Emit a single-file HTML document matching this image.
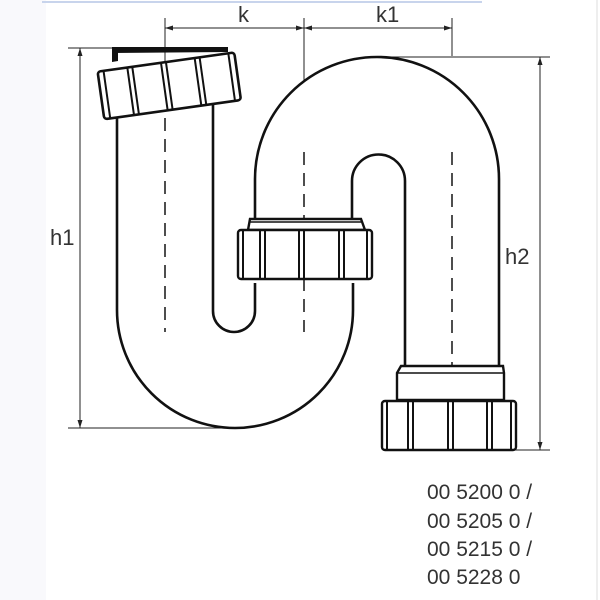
<!DOCTYPE html>
<html><head><meta charset="utf-8"><style>
html,body{margin:0;padding:0;background:#fff}
svg{display:block}
text{font-family:"Liberation Sans",sans-serif;fill:#333}
</style></head><body>
<svg width="600" height="600" viewBox="0 0 600 600" xmlns="http://www.w3.org/2000/svg">
<rect x="0" y="0" width="46" height="600" fill="#f9f9fc"/>
<line x1="42" y1="2" x2="482" y2="2" stroke="#c8d4ec" stroke-width="2"/>
<line x1="597" y1="0" x2="597" y2="600" stroke="#ddd" stroke-width="1"/>
<defs>
<marker id="a" markerWidth="8" markerHeight="8" refX="8" refY="4" orient="auto-start-reverse" markerUnits="userSpaceOnUse"><path d="M0,1.5 L8,4 L0,6.5z" fill="#222"/></marker>
</defs>
<g stroke="#222" stroke-width="1" fill="none">
<line x1="165" y1="28" x2="304" y2="28" marker-start="url(#a)" marker-end="url(#a)"/>
<line x1="304" y1="28" x2="452" y2="28" marker-start="url(#a)" marker-end="url(#a)"/>
<line x1="165" y1="18" x2="165" y2="70"/>
<line x1="304" y1="18" x2="304" y2="80"/>
<line x1="452" y1="18" x2="452" y2="56"/>
<line x1="80" y1="48" x2="80" y2="428" marker-start="url(#a)" marker-end="url(#a)"/>
<line x1="68" y1="48" x2="170" y2="48"/>
<line x1="68" y1="428" x2="235" y2="428"/>
<line x1="540" y1="57" x2="540" y2="450" marker-start="url(#a)" marker-end="url(#a)"/>
<line x1="377" y1="57" x2="550" y2="57"/>
<line x1="450" y1="450" x2="550" y2="450"/>
</g>
<text x="238" y="22" font-size="22">k</text>
<text x="376" y="22" font-size="22">k1</text>
<text x="50" y="245" font-size="22">h1</text>
<text x="505" y="264" font-size="22">h2</text>
<g stroke="#111" stroke-width="2.6" fill="none">
<path d="M117,112 L117,310 A118,118 0 0 0 353,310 L353,283"/>
<path d="M213,105 L213,311 A21,21 0 0 0 255,311 L255,283"/>
<path d="M255,218 L255,179 A122,122 0 0 1 499,179 L499,368"/>
<path d="M352,218 L352,181 A26.5,26.5 0 0 1 405,181 L405,368"/>
</g>
<g stroke="#222" stroke-width="1.6" stroke-dasharray="13,8" fill="none">
<line x1="165" y1="118" x2="165" y2="332"/>
<line x1="304" y1="152" x2="304" y2="332"/>
<line x1="452" y1="152" x2="452" y2="392"/>
</g>
<path d="M112,47 L228,47 L228,52 L112,53 Z" fill="#111"/>
<path d="M112,52 L112,62 L118,61 L118,52 Z" fill="#111"/>
<g transform="rotate(-8 168 84)">
<rect x="100" y="62" width="138" height="48" rx="3" fill="#fff" stroke="#111" stroke-width="2.6"/>
<g stroke="#111" stroke-width="2" fill="none">
<line x1="106" y1="62" x2="106" y2="110"/><line x1="130" y1="62" x2="130" y2="110"/><line x1="135" y1="62" x2="135" y2="110"/>
<line x1="164" y1="62" x2="164" y2="110"/><line x1="169" y1="62" x2="169" y2="110"/>
<line x1="198" y1="62" x2="198" y2="110"/><line x1="203" y1="62" x2="203" y2="110"/>
<line x1="232" y1="62" x2="232" y2="110"/>
</g></g>
<g stroke="#111" stroke-width="2.4" fill="#fff">
<path d="M248,230 L250,219 L361,219 L365,230 Z"/>
<line x1="250" y1="222" x2="361" y2="222" stroke-width="1.5"/>
<rect x="238" y="230" width="134" height="49" rx="3"/>
</g>
<g stroke="#111" stroke-width="2" fill="none">
<line x1="243" y1="230" x2="243" y2="279"/><line x1="260" y1="230" x2="260" y2="279"/><line x1="265" y1="230" x2="265" y2="279"/>
<line x1="299" y1="230" x2="299" y2="279"/><line x1="304" y1="230" x2="304" y2="279"/>
<line x1="339" y1="230" x2="339" y2="279"/><line x1="344" y1="230" x2="344" y2="279"/><line x1="367" y1="230" x2="367" y2="279"/>
</g>
<g stroke="#111" stroke-width="2.4" fill="#fff">
<path d="M397,400 L397,373 L401,366 L503,366 L504,373 L504,400 Z"/>
<line x1="397" y1="373" x2="504" y2="373" stroke-width="1.5"/>
<rect x="382" y="401" width="134" height="49" rx="3"/>
</g>
<g stroke="#111" stroke-width="2" fill="none">
<line x1="387" y1="401" x2="387" y2="450"/><line x1="408" y1="401" x2="408" y2="450"/><line x1="413" y1="401" x2="413" y2="450"/>
<line x1="448" y1="401" x2="448" y2="450"/><line x1="453" y1="401" x2="453" y2="450"/>
<line x1="487" y1="401" x2="487" y2="450"/><line x1="492" y1="401" x2="492" y2="450"/><line x1="511" y1="401" x2="511" y2="450"/>
</g>
<g font-size="21">
<text x="427" y="499">00 5200 0 /</text>
<text x="427" y="528">00 5205 0 /</text>
<text x="427" y="556">00 5215 0 /</text>
<text x="427" y="584">00 5228 0</text>
</g>
</svg>
</body></html>
